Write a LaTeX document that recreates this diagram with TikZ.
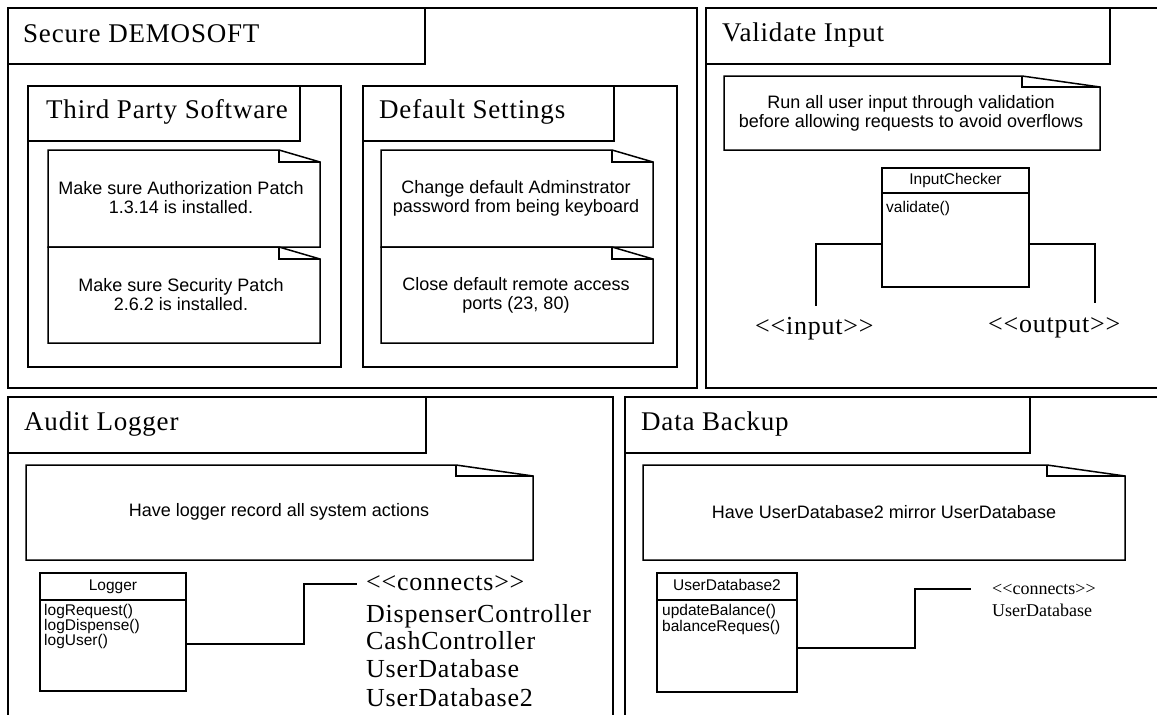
\documentclass[tikz,border=0pt]{standalone}
\usepackage{fontspec}
\setmainfont{Liberation Serif}[Ligatures=TeXOff]
\setsansfont{Liberation Sans}[Ligatures=TeXOff]
\newfontfamily\spserif{Liberation Serif}[Ligatures=TeXOff, LetterSpace=3]
\usetikzlibrary{calc}
\tikzset{
  ln/.style={line width=1.5pt, draw=black},
  ttl/.style={font=\fontsize{27}{27}\selectfont\spserif, inner sep=0pt, anchor=base west},
  notetxt/.style={font=\fontsize{18}{19}\selectfont\sffamily, align=center, inner sep=0pt},
  clsbox/.style={ln, fill=white, inner sep=0pt, outer sep=0pt, anchor=north west},
  clstxt/.style={font=\fontsize{15.5}{16}\selectfont\sffamily, inner sep=0pt, anchor=base west},
  bigl/.style={font=\fontsize{26}{29}\selectfont\spserif, inner sep=0pt, anchor=base west},
  smalll/.style={font=\fontsize{18}{21}\selectfont\rmfamily, inner sep=0pt, anchor=base west},
}
\newcommand\NoteShape[6]{%
  \draw[ln, fill=white] (#1,#2) -- (#3-#5,#2) -- (#3,#2+#6) -- (#3,#4) -- (#1,#4) -- cycle;
  \draw[ln] (#3-#5,#2) -- (#3-#5,#2+#6) -- (#3,#2+#6);}
\begin{document}
\begin{tikzpicture}[x=1pt, y=-1pt]
\useasboundingbox (0,0) rectangle (1157,715);
\fill[white] (0,0) rectangle (1157,715);
\clip (0,0) rectangle (1157,715);

% ---------- Panel 1: Secure DEMOSOFT ----------
\draw[ln] (8,8) rectangle (697,388);
\draw[ln] (8,8) rectangle (425,64);
\node[ttl] (t1) at (23,42) {Secure DEMOSOFT};

\draw[ln] (28,86) rectangle (341,367);
\draw[ln] (28,86) rectangle (300,141);
\node[ttl] (t11) at (46,118) {Third Party Software};
\NoteShape{48}{150}{320}{247}{41}{12}
\node[notetxt] (n11) at (181,198) {Make sure Authorization Patch\\1.3.14 is installed.};
\NoteShape{48}{247}{320}{343}{41}{12}
\node[notetxt] (n12) at (181,295) {Make sure Security Patch\\2.6.2 is installed.};

\draw[ln] (363,86) rectangle (677,367);
\draw[ln] (363,86) rectangle (614,141);
\node[ttl] (t12) at (379,118) {Default Settings};
\NoteShape{381}{150}{653}{247}{41}{12}
\node[notetxt] (n13) at (516,198) {Change default Adminstrator\\password from being keyboard};
\NoteShape{381}{247}{653}{343}{41}{12}
\node[notetxt] (n14) at (516,295) {Close default remote access\\ports (23, 80)};

% ---------- Panel 2: Validate Input ----------
\draw[ln] (706,8) rectangle (1180,388);
\draw[ln] (706,8) rectangle (1110,64);
\node[ttl] (t2) at (722,41) {Validate Input};
\NoteShape{724}{76}{1100}{150}{78}{11}
\node[notetxt] (n2) at (911,113) {Run all user input through validation\\before allowing requests to avoid overflows};

\node[clsbox, minimum width=147pt, minimum height=119pt] (ic) at (882,168) {};
\draw[ln] ($(ic.north west)+(0,25)$) -- ($(ic.north east)+(0,25)$);
\node[clstxt, anchor=base] (ich) at ($(ic.north)+(0,16)$) {InputChecker};
\node[clstxt] (icm) at ($(ic.north west)+(4,44)$) {validate()};

\node[bigl] (inp) at (755,334) {<<input>>};
\node[bigl] (outp) at (988,332) {<<output>>};
\coordinate (inend) at (816,306);
\coordinate (outend) at (1095,303);
\draw[ln] ($(ic.north west)+(0,76)$) -| (inend);
\draw[ln] ($(ic.north east)+(0,76)$) -| (outend);

% ---------- Panel 3: Audit Logger ----------
\draw[ln] (8,397) rectangle (613,740);
\draw[ln] (8,397) rectangle (426,453);
\node[ttl] (t3) at (24,430) {Audit Logger};
\NoteShape{26}{465}{533}{560}{77}{11}
\node[notetxt] (n3) at (279,512) {Have logger record all system actions};

\node[clsbox, minimum width=146pt, minimum height=118pt] (lg) at (40,573) {};
\draw[ln] ($(lg.north west)+(0,27)$) -- ($(lg.north east)+(0,27)$);
\node[clstxt, anchor=base] (lgh) at ($(lg.north)+(0,17)$) {Logger};
\node[clstxt] (lgm1) at (44,615) {logRequest()};
\node[clstxt] (lgm2) at (44,630) {logDispense()};
\node[clstxt] (lgm3) at (44,645) {logUser()};

\node[bigl] (c1) at (366,590) {<<connects>>};
\node[bigl] (c2) at (366,622) {DispenserController};
\node[bigl] (c3) at (366,649) {CashController};
\node[bigl] (c4) at (366,677) {UserDatabase};
\node[bigl] (c5) at (366,706) {UserDatabase2};
\coordinate (lgbend) at (304,584);
\coordinate (lgend) at (357,584);
\draw[ln] ($(lg.north east)+(0,71)$) -| (lgbend) -- (lgend);

% ---------- Panel 4: Data Backup ----------
\draw[ln] (625,397) rectangle (1180,740);
\draw[ln] (625,397) rectangle (1030,453);
\node[ttl] (t4) at (641,430) {Data Backup};
\NoteShape{643}{465}{1125}{560}{78}{11}
\node[notetxt] (n4) at (884,512) {Have UserDatabase2 mirror UserDatabase};

\node[clsbox, minimum width=140pt, minimum height=119pt] (ud) at (657,573) {};
\draw[ln] ($(ud.north west)+(0,27)$) -- ($(ud.north east)+(0,27)$);
\node[clstxt, anchor=base] (udh) at ($(ud.north)+(0,17)$) {UserDatabase2};
\node[clstxt] (udm1) at (662,615) {updateBalance()};
\node[clstxt] (udm2) at (662,631) {balanceReques()};

\node[smalll] (d1) at (992,594) {<<connects>>};
\node[smalll] (d2) at (992,616) {UserDatabase};
\coordinate (udbend) at (915,589);
\coordinate (udend) at (971,589);
\draw[ln] ($(ud.north east)+(0,75)$) -| (udbend) -- (udend);
\end{tikzpicture}
\end{document}
